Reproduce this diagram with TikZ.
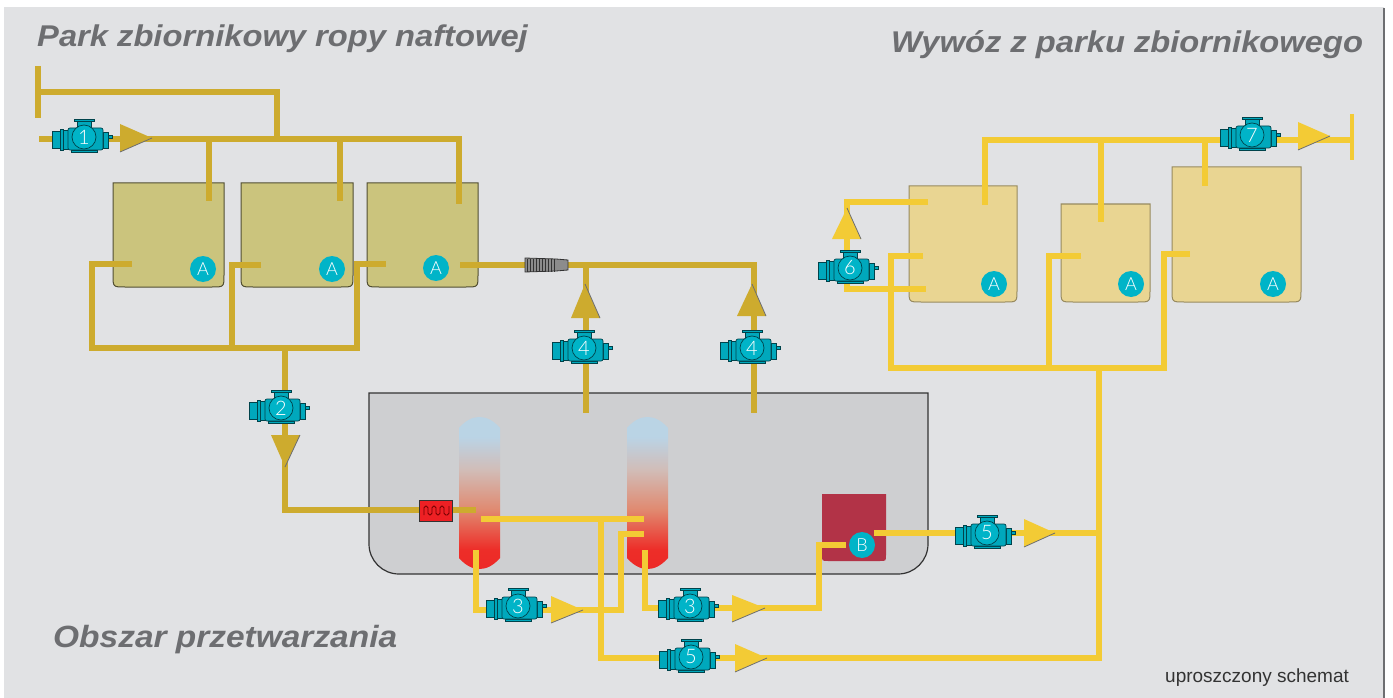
\documentclass[tikz,border=0pt]{standalone}
\usepackage{fontspec}
\setmainfont{Liberation Sans}
\newfontfamily\badgefont{Lato Light}
\newfontfamily\titlefont{Liberation Sans}[FakeStretch=1.09]
\definecolor{panelgray}{HTML}{E1E2E4}
\definecolor{procgray}{HTML}{CECFD1}
\definecolor{pipedark}{HTML}{CDAB2E}
\definecolor{pipelight}{HTML}{F3CB35}
\definecolor{tankdark}{HTML}{CBC47D}
\definecolor{tanklight}{HTML}{E9D592}
\definecolor{boxred}{HTML}{B23347}
\definecolor{heaterred}{HTML}{EE2024}
\definecolor{pumpteal}{HTML}{00A8BC}
\definecolor{badgeteal}{HTML}{00B4C8}
\definecolor{titlegray}{HTML}{6D6E71}
\pgfdeclareverticalshading{columnshade}{100bp}{rgb(0bp)=(0.93,0.16,0.15);
rgb(25bp)=(0.93,0.16,0.15); rgb(31.5bp)=(0.93,0.18,0.16); rgb(44.6bp)=(0.88,0.54,0.44);
rgb(57.7bp)=(0.82,0.74,0.72); rgb(68.5bp)=(0.73,0.83,0.90); rgb(100bp)=(0.73,0.83,0.90)}
\tikzset{
pipeD/.style={line width=5.4pt,draw=pipedark},
pipeL/.style={line width=5.4pt,draw=pipelight},
tankD/.style={fill=tankdark,draw=black!60!tankdark,line width=1pt},
tankL/.style={fill=tanklight,draw=black!35!tanklight,line width=1pt},
badge/.style={circle,fill=badgeteal,text=white,inner sep=0pt,minimum size=26pt,font=\badgefont\fontsize{18}{18}\selectfont},
title/.style={text=titlegray,anchor=base west,inner sep=0pt,font=\titlefont\fontsize{30}{30}\selectfont\bfseries\itshape},
pump/.pic={
\begin{scope}[draw=black!60!pumpteal,line width=.7pt,fill=pumpteal]
\filldraw (24,-2) rectangle (28.5,1);
\filldraw (19,-5) rectangle (24,11);
\filldraw (-31.5,-6) rectangle (-24,11);
\filldraw (-24,-8) rectangle (-21,13);
\filldraw (-21,-7) rectangle (-16,12);
\filldraw (-13,13) rectangle (13,15);
\filldraw (-7,-16) rectangle (7,-9);
\filldraw (-10,-18) rectangle (10,-16);
\filldraw[rounded corners=2pt] (-16,-9) rectangle (19,13);
\filldraw[fill=badgeteal] (0,0) circle (12);
\end{scope}
\node[text=white,inner sep=0pt,font=\badgefont\fontsize{20}{20}\selectfont] (-num) at (0,0) {#1};
},
}
\newcommand{\tankbox}[6]{%
\path[#6] (#2,#3) -- (#4,#3) -- (#4,\the\numexpr#5-12\relax) .. controls (#4,#5) .. (\the\numexpr#4-12\relax,#5)
  -- (\the\numexpr#2+12\relax,#5) .. controls (#2,#5) .. (#2,\the\numexpr#5-12\relax) -- cycle;
\coordinate (#1) at (#2,#3);}
\newcommand{\flowarrow}[6]{%
\fill[#1] (#2) -- (#3) -- (#4) -- cycle;
\draw[line width=.8pt,draw=titlegray] (#5) -- (#6);}
\begin{document}
\begin{tikzpicture}[x=1pt,y=-1pt]
\useasboundingbox (0,0) rectangle (1393,698);
\fill[panelgray] (4,7) rectangle (1384,698);
\draw[line width=2pt,draw=titlegray] (1384,8) -- (1384,698);

\node[title] (parkT) at (37,47) {Park zbiornikowy ropy naftowej};
\node[title] (wywozT) at (891,53) {Wywóz z parku zbiornikowego};
\node[title,font=\titlefont\fontsize{30.7}{30}\selectfont\bfseries\itshape] (obszarT) at (53,647) {Obszar przetwarzania};
\node[anchor=base west,inner sep=0pt,text=black!80,font=\fontsize{19}{19}\selectfont] (noteT) at (1165,682) {uproszczony schemat};

% process area
\filldraw[fill=procgray,draw=black!80,line width=1.2pt] (369,393) -- (928,393) -- (928,544)
  arc (0:90:30) -- (399,574) arc (90:180:30) -- cycle;
\shade[shading=columnshade] (459,428) .. controls (466,420) and (473,417) .. (479.5,417)
  .. controls (486,417) and (493,420) .. (500,428) -- (500,558)
  .. controls (493,566) and (486,569) .. (479.5,569) .. controls (473,569) and (466,566) .. (459,558) -- cycle;
\shade[shading=columnshade] (627,428) .. controls (634,420) and (641,417) .. (647.5,417)
  .. controls (654,417) and (661,420) .. (668,428) -- (668,558)
  .. controls (661,566) and (654,569) .. (647.5,569) .. controls (641,569) and (634,566) .. (627,558) -- cycle;
\fill[boxred] (822,494) -- (886,494) -- (886,555) .. controls (886,561) .. (880,561) -- (828,561) .. controls (822,561) .. (822,555) -- cycle;

% tanks
\tankbox{T1}{113}{183}{224}{287}{tankD}
\tankbox{T2}{241}{183}{353}{287}{tankD}
\tankbox{T3}{367}{183}{478}{287}{tankD}
\tankbox{T4}{909}{186}{1017}{302}{tankL}
\tankbox{T5}{1061}{204}{1150}{302}{tankL}
\tankbox{T6}{1172}{167}{1301}{302}{tankL}

% dark pipes
\coordinate (D0) at (38,66);
\coordinate (D1) at (38,118);
\coordinate (D2) at (38,92);
\coordinate (D3) at (277,92);
\coordinate (D4) at (277,139);
\coordinate (D5) at (39,139);
\coordinate (D6) at (459,139);
\coordinate (D7) at (459,204);
\coordinate (D8) at (209,139);
\coordinate (D9) at (209,201);
\coordinate (D10) at (340,139);
\coordinate (D11) at (340,201);
\draw[pipeD] (D0)--(D1);
\draw[pipeD] (D2)--(D3)--(D4);
\draw[pipeD] (D5)--(D6)--(D7);
\draw[pipeD] (D8)--(D9);
\draw[pipeD] (D10)--(D11);

\coordinate (E0) at (132,264);
\coordinate (E1) at (92,264);
\coordinate (E2) at (92,348);
\coordinate (E3) at (357,348);
\coordinate (E4) at (357,264);
\coordinate (E5) at (386,264);
\coordinate (E6) at (261,265);
\coordinate (E7) at (232,265);
\coordinate (E8) at (232,348);
\coordinate (E9) at (285,348);
\coordinate (E10) at (285,510);
\coordinate (E11) at (476,510);
\draw[pipeD] (E0)--(E1)--(E2)--(E3)--(E4)--(E5);
\draw[pipeD] (E6)--(E7)--(E8);
\draw[pipeD] (E9)--(E10)--(E11);

\coordinate (F0) at (460,265);
\coordinate (F1) at (754,265);
\coordinate (F2) at (754,413);
\coordinate (F3) at (586,265);
\coordinate (F4) at (586,413);
\draw[pipeD] (F0)--(F1)--(F2);
\draw[pipeD] (F3)--(F4);

% light pipes
\coordinate (L0) at (481,519);
\coordinate (L1) at (644,519);
\coordinate (L2) at (601,519);
\coordinate (L3) at (601,658);
\coordinate (L4) at (1099,658);
\coordinate (L5) at (1099,368);
\coordinate (L6) at (644,534);
\coordinate (L7) at (621,534);
\coordinate (L8) at (621,610);
\coordinate (L9) at (476,610);
\coordinate (L10) at (476,550);
\coordinate (L11) at (645,550);
\coordinate (L12) at (645,608);
\coordinate (L13) at (819,608);
\coordinate (L14) at (819,545);
\coordinate (L15) at (846,545);
\coordinate (L16) at (874,533);
\coordinate (L17) at (1099,533);
\draw[pipeL] (L0)--(L1);
\draw[pipeL] (L2)--(L3)--(L4)--(L5);
\draw[pipeL] (L6)--(L7)--(L8)--(L9)--(L10);
\draw[pipeL] (L11)--(L12)--(L13)--(L14)--(L15);
\draw[pipeL] (L16)--(L17);

\coordinate (M0) at (923,256);
\coordinate (M1) at (891,256);
\coordinate (M2) at (891,368);
\coordinate (M3) at (1164,368);
\coordinate (M4) at (1164,254);
\coordinate (M5) at (1190,254);
\coordinate (M6) at (1081,256);
\coordinate (M7) at (1049,256);
\coordinate (M8) at (1049,368);
\draw[pipeL] (M0)--(M1)--(M2)--(M3)--(M4)--(M5);
\draw[pipeL] (M6)--(M7)--(M8);

\coordinate (N0) at (928,202);
\coordinate (N1) at (847,202);
\coordinate (N2) at (847,289);
\coordinate (N3) at (926,289);
\draw[pipeL] (N0)--(N1)--(N2)--(N3);

\coordinate (R0) at (985,205);
\coordinate (R1) at (985,140);
\coordinate (R2) at (1352,140);
\coordinate (R3) at (1101,140);
\coordinate (R4) at (1101,222);
\coordinate (R5) at (1205,140);
\coordinate (R6) at (1205,186);
\coordinate (R7) at (1352,114);
\coordinate (R8) at (1352,160);
\draw[pipeL] (R0)--(R1)--(R2);
\draw[pipeL] (R3)--(R4);
\draw[pipeL] (R5)--(R6);
\draw[pipeL,line width=3.5pt] (R7)--(R8);

% hose
\filldraw[fill=black!45,draw=black!80,line width=.8pt] (525,258) -- (556,259) -- (568,260) -- (568,270) -- (556,271) -- (525,272) -- cycle;
\foreach \i in {527,530,...,554}
  \draw[black!80,line width=.7pt] (\i,258.5) -- (\i,271.5);

% heater
\filldraw[fill=heaterred,draw=black!80,line width=1pt] (419,500) rectangle (452,521);
\draw[red!45!black,line width=.9pt,rounded corners=1.8pt] (424,515) -- (424,506) -- (428,506) -- (428,515) -- (432,515) -- (432,506)
  -- (436,506) -- (436,515) -- (440,515) -- (440,506) -- (444,506) -- (444,515) -- (449,515) -- (449,506);

% arrows
\flowarrow{pipedark}{120,124}{120,152}{152,138}{152,138}{120,152}
\flowarrow{pipedark}{271,435}{300,435}{285,467}{285,467}{300,435}
\flowarrow{pipedark}{585,284}{571,318}{600,318}{585,284}{600,318}
\flowarrow{pipedark}{752,284}{737,316}{766,316}{752,284}{766,316}
\flowarrow{pipelight}{551,596}{551,623}{583,610}{583,610}{551,623}
\flowarrow{pipelight}{732,595}{732,622}{765,608}{765,608}{732,622}
\flowarrow{pipelight}{735,644}{735,672}{767,658}{767,658}{735,672}
\flowarrow{pipelight}{1024,519}{1024,547}{1055,533}{1055,533}{1024,547}
\flowarrow{pipelight}{847,208}{832,239}{861,239}{847,208}{861,239}
\flowarrow{pipelight}{1298,122}{1298,150}{1330,136}{1330,136}{1298,150}

% pumps
\pic (pumpA) at (84,137) {pump=1};
\pic (pumpB) at (281,408) {pump=2};
\pic (pumpC) at (518,606) {pump=3};
\pic (pumpD) at (690,606) {pump=3};
\pic (pumpE) at (584,348) {pump=4};
\pic (pumpF) at (752,348) {pump=4};
\pic (pumpG) at (691,657) {pump=5};
\pic (pumpH) at (987,533) {pump=5};
\pic (pumpI) at (850,268) {pump=6};
\pic (pumpJ) at (1252,135) {pump=7};

% badges
\node[badge] (badgeA) at (203,269) {A};
\node[badge] (badgeB) at (332,269) {A};
\node[badge] (badgeC) at (436,268) {A};
\node[badge] (badgeD) at (994,284) {A};
\node[badge] (badgeE) at (1131,284) {A};
\node[badge] (badgeF) at (1273,284) {A};
\node[badge] (badgeG) at (862,545) {B};
\end{tikzpicture}
\end{document}
